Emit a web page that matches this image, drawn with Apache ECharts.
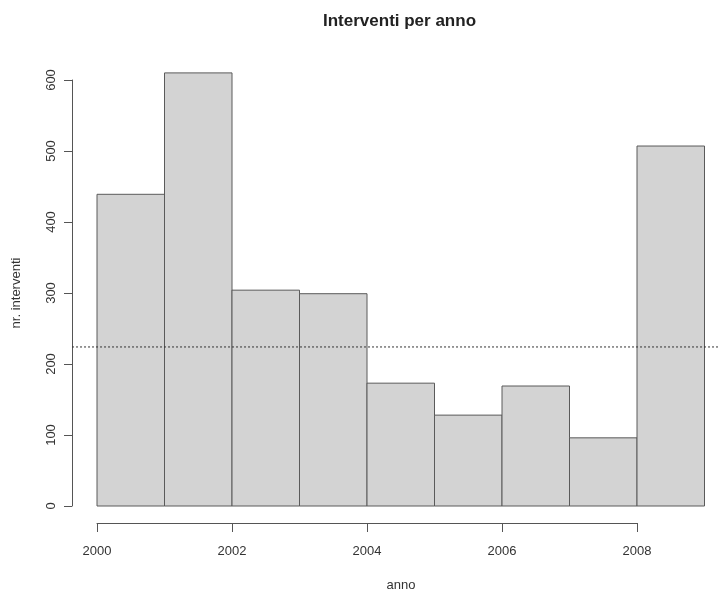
<!DOCTYPE html>
<html>
<head>
<meta charset="utf-8">
<script src="https://cdn.jsdelivr.net/npm/echarts@6/dist/echarts.min.js"></script>
<style>
html, body { margin: 0; padding: 0; background: #fff; }
#chart { width: 718px; height: 590px; }
</style>
</head>
<body>
<div id="chart"></div>
<script>
// istogramma: un anno per barra
const binStarts = [2000, 2001, 2002, 2003, 2004, 2005, 2006, 2007, 2008];
const counts = [439, 610, 304, 299, 173, 128, 169, 96, 507];
const refLevel = 224;
const xTicks = [2000, 2002, 2004, 2006, 2008];
const yTicks = [0, 100, 200, 300, 400, 500, 600];

const font = 'Liberation Sans, Arial, sans-serif';
const axisCol = '#555';

let bins = binStarts.map((s, i) => [s, s + 1, counts[i]]);

let myChart = echarts.init(document.getElementById('chart'));
myChart.setOption({
    animation: false,
    title: {
        text: 'Interventi per anno',
        left: 318,
        top: 8,
        textStyle: { fontFamily: font, fontSize: 17, fontWeight: 'bold', color: '#222' }
    },
    grid: { left: 97, right: 81, top: 80, bottom: 84, containLabel: false, outerBoundsMode: 'none' },
    xAxis: {
        type: 'value',
        min: xTicks[0],
        max: xTicks[xTicks.length - 1],
        interval: 2,
        offset: 17,
        name: 'anno',
        nameLocation: 'middle',
        nameGap: 56,
        nameTextStyle: { fontFamily: font, fontSize: 13, color: '#333', padding: [0, 0, 0, 68] },
        axisLine: { onZero: false, lineStyle: { color: axisCol, width: 1 } },
        axisTick: { length: 9, lineStyle: { color: axisCol } },
        axisLabel: { margin: 22, fontFamily: font, fontSize: 13, color: '#333',
            formatter: v => String(v) },
        splitLine: { show: false }
    },
    yAxis: {
        type: 'value',
        min: yTicks[0],
        max: yTicks[yTicks.length - 1],
        interval: 100,
        offset: 25,
        name: 'nr. interventi',
        nameLocation: 'middle',
        nameGap: 49,
        nameTextStyle: { fontFamily: font, fontSize: 13, color: '#333' },
        axisLine: { show: true, onZero: false, lineStyle: { color: axisCol, width: 1 } },
        axisTick: { show: true, length: 8, lineStyle: { color: axisCol } },
        axisLabel: { rotate: 90, margin: 14, fontFamily: font, fontSize: 13, color: '#333' },
        splitLine: { show: false }
    },
    series: [
        {
            type: 'custom',
            clip: false,
            data: bins,
            renderItem: function (params, api) {
                let p0 = api.coord([api.value(0), 0]);
                let p1 = api.coord([api.value(1), api.value(2)]);
                return {
                    type: 'rect',
                    shape: { x: p0[0], y: p1[1], width: p1[0] - p0[0], height: p0[1] - p1[1] },
                    style: { fill: '#d3d3d3', stroke: '#5a5a5a', lineWidth: 1 }
                };
            },
            z: 2
        },
        {
            // linea di riferimento tratteggiata
            type: 'custom',
            clip: false,
            data: [[1999.63, 2009.2, refLevel]],
            renderItem: function (params, api) {
                let a = api.coord([api.value(0), api.value(2)]);
                let b = api.coord([api.value(1), api.value(2)]);
                return {
                    type: 'line',
                    shape: { x1: a[0], y1: a[1], x2: b[0], y2: b[1] },
                    style: { stroke: '#333', lineWidth: 1, lineDash: [2, 2] }
                };
            },
            z: 3
        }
    ]
});
</script>
</body>
</html>
